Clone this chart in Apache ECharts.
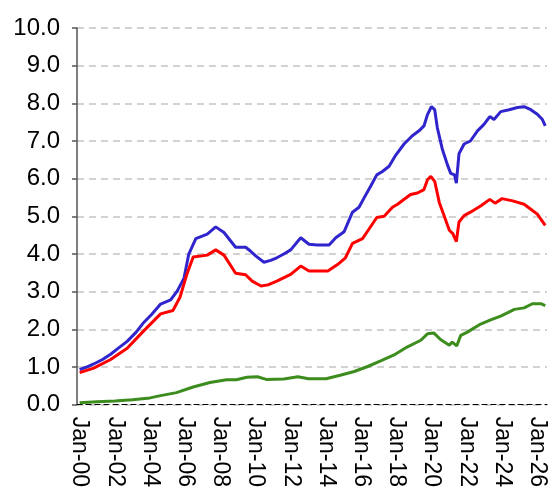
<!DOCTYPE html>
<html>
<head>
<meta charset="utf-8">
<script src="https://cdn.jsdelivr.net/npm/echarts@6/dist/echarts.min.js"></script>
<style>
html,body{margin:0;padding:0;background:#fff;}
#c{width:555px;height:490px;}
</style>
</head>
<body>
<div id="c"></div>
<script>
var xTickYears = [2000,2002,2004,2006,2008,2010,2012,2014,2016,2018,2020,2022,2024,2026];
var yTicks = [0,1,2,3,4,5,6,7,8,9,10];

var blueYears = [2000.0,2000.4,2000.8,2001.3,2001.76,2002.2,2002.7,2003.2,2003.6,2004.1,2004.6,2005.17,2005.55,2005.93,2006.2,2006.6,2007.25,2007.73,2008.2,2008.86,2009.43,2009.7,2010.0,2010.47,2010.85,2011.2,2011.6,2011.99,2012.56,2013.03,2013.5,2014.17,2014.55,2015.02,2015.5,2015.87,2016.16,2016.53,2016.88,2017.2,2017.58,2017.95,2018.43,2018.9,2019.28,2019.56,2019.76,2019.98,2020.17,2020.32,2020.6,2020.9,2021.08,2021.3,2021.4,2021.55,2021.84,2022.2,2022.6,2022.97,2023.3,2023.54,2023.92,2024.4,2024.87,2025.25,2025.63,2026.0,2026.29,2026.45];
var blueValues = [0.93,1.0,1.08,1.2,1.34,1.5,1.68,1.92,2.16,2.4,2.67,2.78,3.02,3.36,4.0,4.41,4.53,4.72,4.57,4.18,4.18,4.08,3.95,3.78,3.83,3.9,4.0,4.11,4.43,4.26,4.24,4.24,4.43,4.59,5.11,5.24,5.49,5.8,6.1,6.19,6.33,6.62,6.92,7.14,7.27,7.4,7.7,7.91,7.83,7.35,6.79,6.36,6.14,6.1,5.88,6.66,6.92,7.0,7.27,7.44,7.65,7.57,7.78,7.83,7.89,7.91,7.83,7.71,7.57,7.4];

var redYears = [2000.0,2000.8,2001.76,2002.7,2003.6,2004.6,2005.3,2005.7,2006.08,2006.45,2007.25,2007.73,2008.2,2008.86,2009.43,2009.8,2010.3,2010.7,2011.2,2011.99,2012.56,2013.03,2014.1,2014.65,2015.1,2015.5,2016.07,2016.45,2016.88,2017.3,2017.77,2018.06,2018.8,2019.19,2019.56,2019.76,2019.95,2020.17,2020.43,2020.7,2021.0,2021.2,2021.4,2021.55,2021.84,2022.2,2022.8,2023.3,2023.6,2024.0,2024.6,2025.25,2025.63,2026.0,2026.45];
var redValues = [0.85,0.97,1.2,1.5,1.94,2.41,2.5,2.85,3.45,3.92,3.97,4.11,3.97,3.49,3.45,3.28,3.15,3.18,3.28,3.46,3.68,3.55,3.55,3.72,3.9,4.28,4.41,4.67,4.97,5.0,5.24,5.32,5.58,5.62,5.71,5.97,6.06,5.93,5.37,5.02,4.63,4.54,4.33,4.85,5.02,5.11,5.28,5.45,5.35,5.47,5.41,5.32,5.19,5.06,4.76];

var greenYears = [2000.0,2001.0,2002.0,2003.0,2004.0,2004.6,2005.5,2006.45,2007.4,2008.35,2008.9,2009.5,2010.1,2010.6,2011.6,2012.4,2013.0,2014.0,2014.8,2015.6,2016.4,2017.1,2017.86,2018.6,2019.38,2019.76,2020.13,2020.5,2021.0,2021.17,2021.42,2021.65,2022.0,2022.78,2023.35,2023.92,2024.7,2025.25,2025.72,2026.2,2026.45];
var greenValues = [0.05,0.08,0.1,0.13,0.18,0.24,0.32,0.47,0.59,0.66,0.66,0.73,0.74,0.67,0.68,0.74,0.69,0.69,0.78,0.88,1.02,1.16,1.32,1.53,1.71,1.88,1.9,1.73,1.58,1.66,1.56,1.84,1.92,2.14,2.25,2.35,2.53,2.57,2.68,2.68,2.63];

function pairs(xs, ys){ return xs.map(function(x,i){ return [x, ys[i]]; }); }

var chart = echarts.init(document.getElementById('c'), null, {renderer:'canvas'});
var font = 'Liberation Sans, Arial, sans-serif';
chart.setOption({
  animation: false,
  backgroundColor: '#fff',
  grid: {left: 77, right: 8, top: 28, bottom: 78, containLabel: false},
  xAxis: {
    type: 'value', min: 1999.85, max: 2026.55,
    splitLine: {show: false},
    axisLine: {show: true, onZero: false, lineStyle: {color: '#000', type: [5,4], width: 1.2}},
    axisTick: {show: false},
    axisLabel: {
      customValues: xTickYears,
      rotate: -90, margin: 12, fontSize: 23, fontFamily: font, color: '#000',
      formatter: function(v){ var y = Math.round(v) % 100; return 'Jan-' + (y < 10 ? '0' + y : y); }
    }
  },
  yAxis: {
    type: 'value', min: yTicks[0], max: yTicks[yTicks.length-1], interval: 1,
    axisLine: {show: true, lineStyle: {color: '#555', width: 1.5}},
    axisTick: {show: true, length: 5, lineStyle: {color: '#555', width: 1.5}},
    splitLine: {show: true, lineStyle: {color: '#c4c4c4', type: [7,5], width: 1.5}},
    axisLabel: {margin: 17, fontSize: 24, fontFamily: font, color: '#000',
      formatter: function(v){ return v.toFixed(1); }}
  },
  series: [
    {name: 'Blue', type: 'line', data: pairs(blueYears, blueValues), showSymbol: false, lineStyle: {color: '#3024cc', width: 3}, itemStyle:{color:'#3024cc'}},
    {name: 'Red', type: 'line', data: pairs(redYears, redValues), showSymbol: false, lineStyle: {color: '#ff0000', width: 3}, itemStyle:{color:'#ff0000'}},
    {name: 'Green', type: 'line', data: pairs(greenYears, greenValues), showSymbol: false, lineStyle: {color: '#3c8c1e', width: 3}, itemStyle:{color:'#3c8c1e'}}
  ]
});
</script>
</body>
</html>
